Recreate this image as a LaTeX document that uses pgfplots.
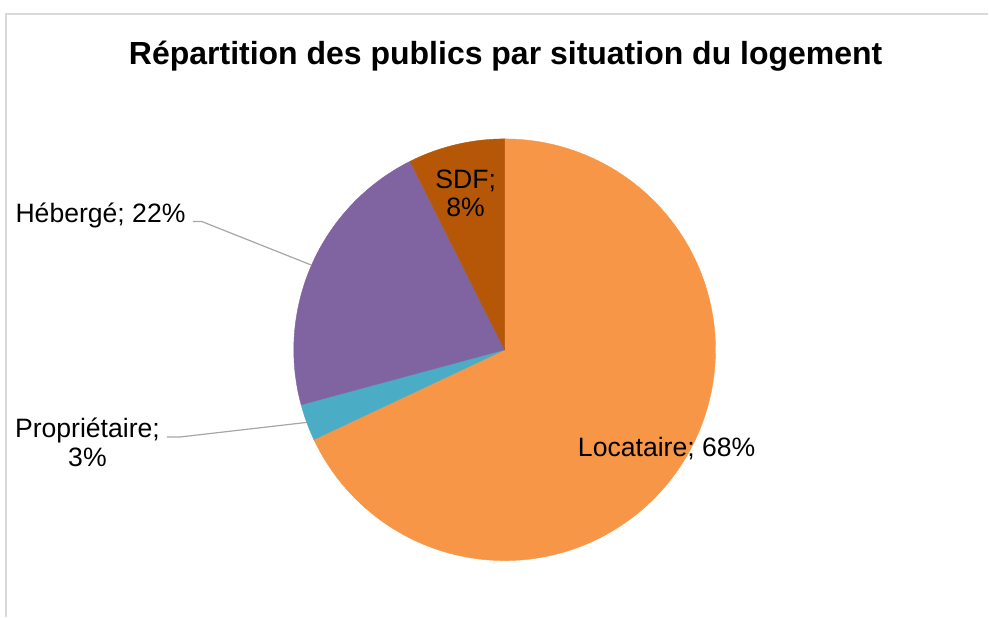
\documentclass[border=0pt]{standalone}
\usepackage{pgfplots}
\pgfplotsset{compat=1.18}
\usepackage{pgfplotstable}
\usepackage{fontspec}
\setmainfont{Liberation Sans}
\definecolor{cLoc}{HTML}{F79646}
\definecolor{cProp}{HTML}{4BACC6}
\definecolor{cHeb}{HTML}{8064A2}
\definecolor{cSDF}{HTML}{B65708}
\definecolor{cLead}{HTML}{A6A6A6}
\definecolor{cBorder}{HTML}{D9D9D9}
\pgfplotstableread{
cat value
Locataire 68.0
Proprietaire 2.8
Heberge 21.8
SDF 7.4
}\piedata
\begin{document}
\begin{tikzpicture}
\pgfplotstablegetelem{0}{value}\of\piedata \let\vA\pgfplotsretval
\pgfplotstablegetelem{1}{value}\of\piedata \let\vB\pgfplotsretval
\pgfplotstablegetelem{2}{value}\of\piedata \let\vC\pgfplotsretval
\pgfplotstablegetelem{3}{value}\of\piedata \let\vD\pgfplotsretval
\pgfmathsetmacro\aA{90}
\pgfmathsetmacro\aB{\aA-3.6*\vA}
\pgfmathsetmacro\aC{\aB-3.6*\vB}
\pgfmathsetmacro\aD{\aC-3.6*\vC}
\pgfmathsetmacro\aE{\aD-3.6*\vD}
\begin{axis}[width=494.5pt, height=308.5pt, scale only axis,
  xmin=0, xmax=989, ymin=0, ymax=617, hide axis, clip=false,
  at={(0,0)}, anchor=south west]
\path (axis cs:0,0) rectangle (axis cs:989,617);
\draw[cBorder, line width=0.7pt] (axis cs:6,0) -- (axis cs:6,603) -- (axis cs:989,603);
\addplot[fill=cLoc, draw=cLoc, line width=0.2pt, domain=\aB:\aA, samples=150, variable=\t]
  ({505+211*cos(\t)},{267+211*sin(\t)}) -- (axis cs:505,267) -- cycle;
\addplot[fill=cProp, draw=cProp, line width=0.2pt, domain=\aC:\aB, samples=20, variable=\t]
  ({505+211*cos(\t)},{267+211*sin(\t)}) -- (axis cs:505,267) -- cycle;
\addplot[fill=cHeb, draw=cHeb, line width=0.2pt, domain=\aD:\aC, samples=60, variable=\t]
  ({505+211*cos(\t)},{267+211*sin(\t)}) -- (axis cs:505,267) -- cycle;
\addplot[fill=cSDF, draw=cSDF, line width=0.2pt, domain=\aE:\aD, samples=30, variable=\t]
  ({505+211*cos(\t)},{267+211*sin(\t)}) -- (axis cs:505,267) -- cycle;
\draw[cLead, line width=0.6pt] (axis cs:193,395.3) -- (axis cs:202,395.3) -- (axis cs:311,352);
\draw[cLead, line width=0.6pt] (axis cs:167,179.7) -- (axis cs:180,179.7) -- (axis cs:307,194.3);
\node[font=\bfseries\fontsize{16}{19}\selectfont, anchor=base, inner sep=0pt] at (axis cs:506,552) {Répartition des publics par situation du logement};
\node[font=\fontsize{13.3}{14.2}\selectfont, anchor=base east, inner sep=0pt] at (axis cs:186,394.3) {Hébergé; 22\%};
\node[font=\fontsize{13.3}{14.2}\selectfont, align=center, anchor=base, inner sep=0pt] at (axis cs:87.5,150.3) {Propriétaire;\\3\%};
\node[font=\fontsize{13.3}{14.2}\selectfont, align=center, anchor=base, inner sep=0pt] at (axis cs:466,400.3) {SDF;\\8\%};
\node[font=\fontsize{13.3}{14.2}\selectfont, anchor=base west, inner sep=0pt] at (axis cs:578,160.3) {Locataire; 68\%};
\end{axis}
\end{tikzpicture}
\end{document}
